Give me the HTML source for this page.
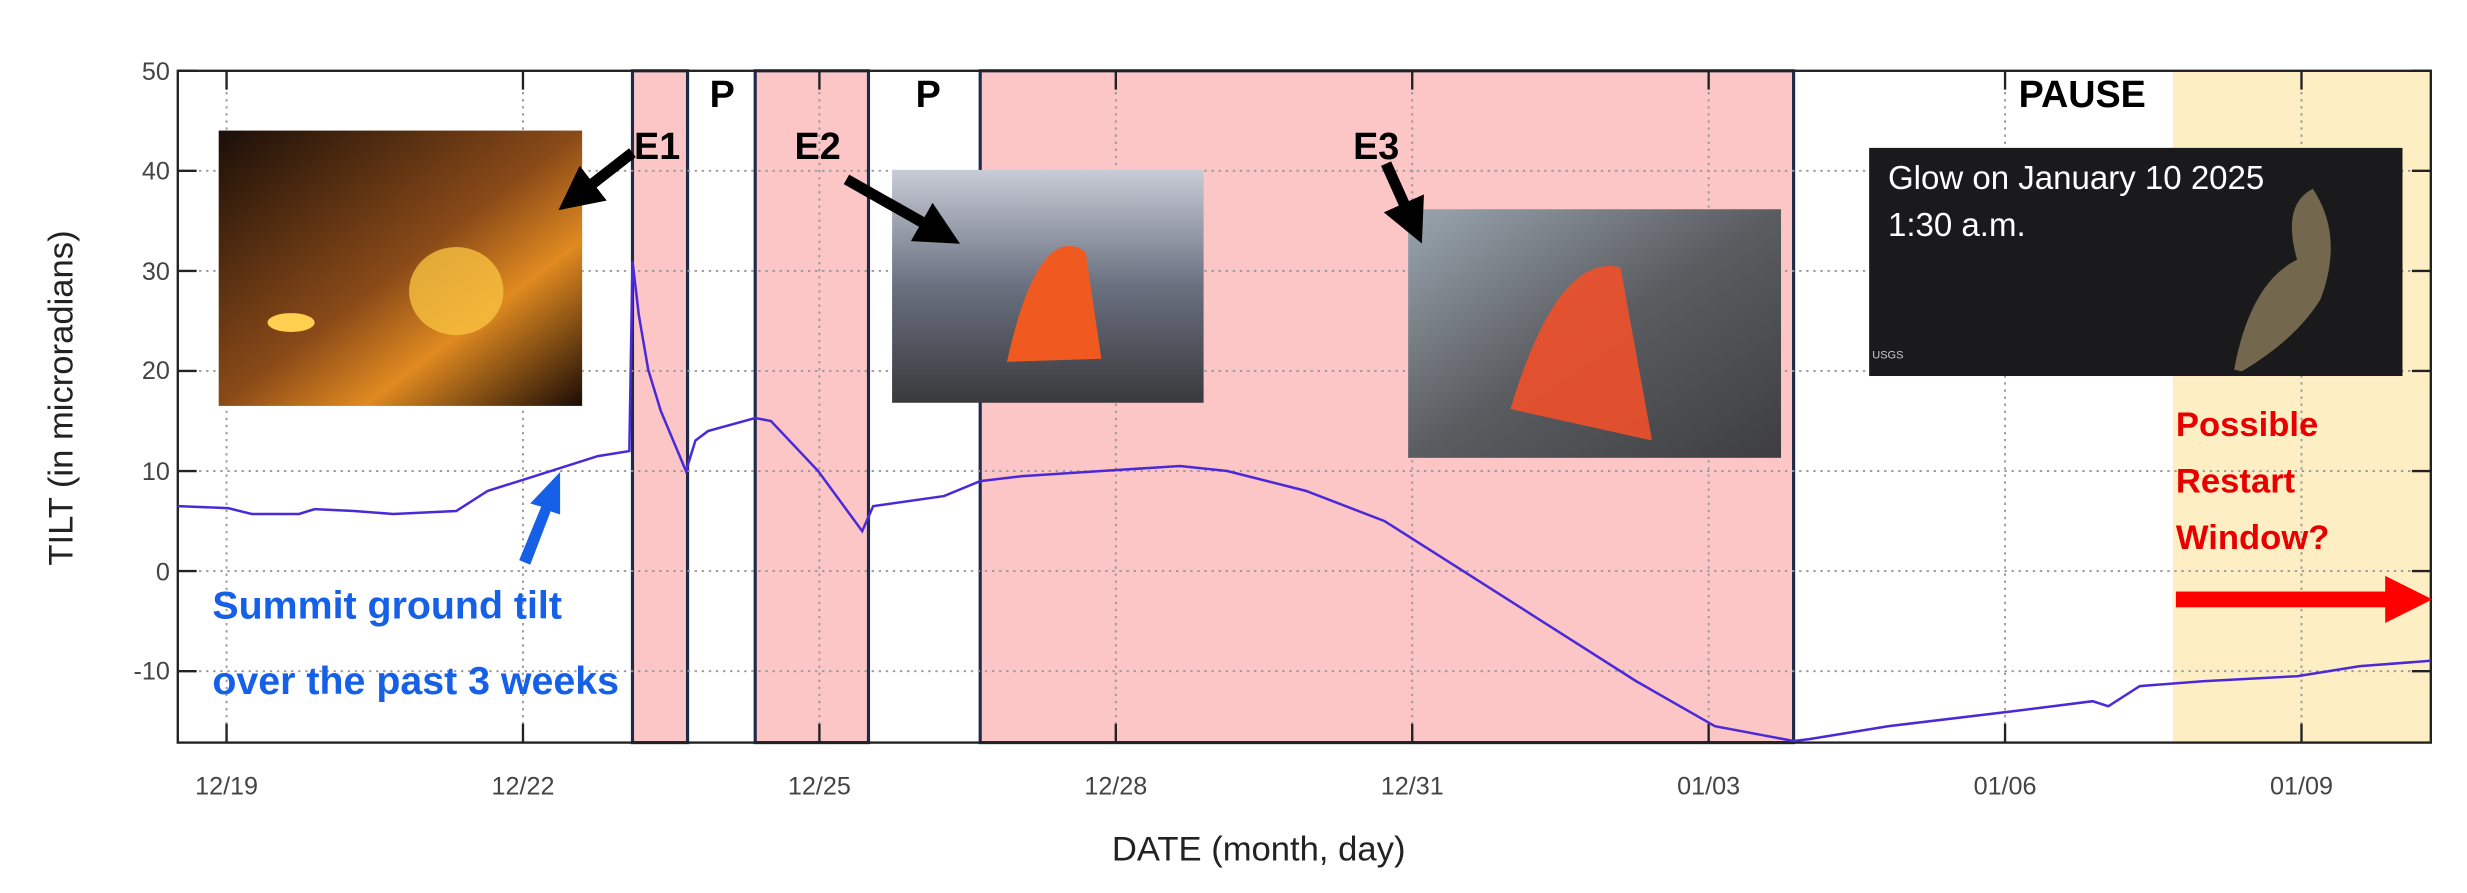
<!DOCTYPE html>
<html><head><meta charset="utf-8"><style>
html,body{margin:0;padding:0;background:#fff;}
svg{display:block;}
</style></head><body>
<svg width="2467" height="893" viewBox="0 0 1568 567.6" preserveAspectRatio="none" xmlns="http://www.w3.org/2000/svg" font-family="Liberation Sans, sans-serif">
<defs>
<linearGradient id="g1" x1="0" y1="0" x2="1" y2="1"><stop offset="0" stop-color="#1a0f08"/><stop offset="0.5" stop-color="#8a4a18"/><stop offset="0.7" stop-color="#e08a20"/><stop offset="1" stop-color="#1a0c06"/></linearGradient>
<linearGradient id="g2" x1="0" y1="0" x2="0" y2="1"><stop offset="0" stop-color="#c8ccd6"/><stop offset="0.5" stop-color="#6a7080"/><stop offset="1" stop-color="#3a3a3c"/></linearGradient>
<linearGradient id="g3" x1="0" y1="0" x2="1" y2="1"><stop offset="0" stop-color="#9aa6b0"/><stop offset="0.5" stop-color="#5a5c60"/><stop offset="1" stop-color="#3e3e40"/></linearGradient>
<marker id="ah" markerWidth="4" markerHeight="4" refX="2" refY="2" orient="auto"><path d="M0,0 L4,2 L0,4 z" fill="#000"/></marker>
</defs>
<rect x="1381" y="45" width="164" height="427" fill="#fdeec4"/>
<rect x="402" y="45" width="35" height="427" fill="#fcc6c6" stroke="#1f2a4a" stroke-width="2"/>
<rect x="480" y="45" width="72" height="427" fill="#fcc6c6" stroke="#1f2a4a" stroke-width="2"/>
<rect x="623" y="45" width="517" height="427" fill="#fcc6c6" stroke="#1f2a4a" stroke-width="2"/>
<g stroke="#999" stroke-width="1.2" stroke-dasharray="1.5,3">
<line x1="113" y1="108.6" x2="1545" y2="108.6"/><line x1="113" y1="172.2" x2="1545" y2="172.2"/><line x1="113" y1="235.8" x2="1545" y2="235.8"/><line x1="113" y1="299.4" x2="1545" y2="299.4"/><line x1="113" y1="363" x2="1545" y2="363"/><line x1="113" y1="426.6" x2="1545" y2="426.6"/>
<line x1="144" y1="45" x2="144" y2="472"/><line x1="332.4" y1="45" x2="332.4" y2="472"/><line x1="520.8" y1="45" x2="520.8" y2="472"/><line x1="709.2" y1="45" x2="709.2" y2="472"/><line x1="897.6" y1="45" x2="897.6" y2="472"/><line x1="1086" y1="45" x2="1086" y2="472"/><line x1="1274.4" y1="45" x2="1274.4" y2="472"/><line x1="1462.8" y1="45" x2="1462.8" y2="472"/>
</g>
<rect x="113" y="45" width="1432" height="427" fill="none" stroke="#222" stroke-width="1.5"/>
<g stroke="#222" stroke-width="1.5">
<path d="M113 45h12M113 108.6h12M113 172.2h12M113 235.8h12M113 299.4h12M113 363h12M113 426.6h12M1545 45h-12M1545 108.6h-12M1545 172.2h-12M1545 235.8h-12M1545 299.4h-12M1545 363h-12M1545 426.6h-12"/>
<path d="M144 472v-12M332.4 472v-12M520.8 472v-12M709.2 472v-12M897.6 472v-12M1086 472v-12M1274.4 472v-12M1462.8 472v-12M144 45v12M332.4 45v12M520.8 45v12M709.2 45v12M897.6 45v12M1086 45v12M1274.4 45v12M1462.8 45v12"/>
</g>
<g font-size="16" fill="#444" text-anchor="end">
<text x="108" y="51">50</text><text x="108" y="114">40</text><text x="108" y="178">30</text><text x="108" y="241">20</text><text x="108" y="305">10</text><text x="108" y="369">0</text><text x="108" y="432">-10</text>
</g>
<g font-size="16" fill="#444" text-anchor="middle">
<text x="144" y="505">12/19</text><text x="332.4" y="505">12/22</text><text x="520.8" y="505">12/25</text><text x="709.2" y="505">12/28</text><text x="897.6" y="505">12/31</text><text x="1086" y="505">01/03</text><text x="1274.4" y="505">01/06</text><text x="1462.8" y="505">01/09</text>
</g>
<text x="800" y="547" font-size="22" text-anchor="middle" fill="#222">DATE (month, day)</text>
<text transform="translate(46,253) rotate(-90)" font-size="22" text-anchor="middle" fill="#222">TILT (in microradians)</text>
<polyline fill="none" stroke="#4a2ad8" stroke-width="1.6" points="113,321.7 145,323 160,326.7 190,326.7 200,323.6 225,324.8 250,326.7 290,324.8 310,312 340,302.6 380,289.9 400,286.7 402,165.8 406,200 412,235 420,261.2 436,299.4 442,280 450,274 480,265.7 490,267.6 520,299.4 548,337.6 555,321.7 600,315.3 623,305.8 650,302.6 700,299.4 750,296.2 780,299.4 830,312 880,331.2 930,363 980,394.8 1040,433 1090,461.6 1140,471 1150,469.8 1200,461.6 1280,452 1330,445.7 1340,448.9 1360,436.1 1400,433 1460,429.8 1500,423.4 1545,420"/>
<rect x="139" y="83" width="231" height="175" fill="url(#g1)"/>
<ellipse cx="290" cy="185" rx="30" ry="28" fill="#f8c040" opacity="0.8"/>
<ellipse cx="185" cy="205" rx="15" ry="6" fill="#ffd050"/>
<rect x="567" y="108" width="198" height="148" fill="url(#g2)"/>
<path d="M640 230 Q660 140 690 160 L700 228 z" fill="#f05a20"/>
<rect x="895" y="133" width="237" height="158" fill="url(#g3)"/>
<path d="M960 260 Q990 160 1030 170 L1050 280 z" fill="#f0502a" opacity="0.9"/>
<rect x="1188" y="94" width="339" height="145" fill="#1a1a1c"/>
<path d="M1420 235 Q1430 180 1460 165 Q1450 130 1470 120 Q1490 150 1475 190 Q1460 215 1425 236z" fill="#8a7a5a" opacity="0.8"/>
<text x="1200" y="120" font-size="21" fill="#fff">Glow on January 10 2025</text>
<text x="1200" y="150" font-size="21" fill="#fff">1:30 a.m.</text>
<text x="1190" y="228" font-size="7" fill="#ccc">USGS</text>
<g font-weight="bold" font-size="24" fill="#000">
<text x="403" y="101">E1</text><text x="451" y="68">P</text><text x="505" y="101">E2</text><text x="582" y="68">P</text><text x="860" y="101">E3</text><text x="1283" y="68">PAUSE</text>
</g>
<g stroke="#000" stroke-width="7" marker-end="url(#ah)">
<line x1="402" y1="97" x2="366" y2="125"/>
<line x1="538" y1="114" x2="598" y2="148"/>
<line x1="881" y1="104" x2="898" y2="142"/>
</g>
<g font-weight="bold" font-size="25" fill="#1560e6">
<text x="135" y="393">Summit ground tilt</text><text x="135" y="441">over the past 3 weeks</text>
</g>
<path d="M330 356 L344 322 L337 320 L356 300 L356 327 L350 325 L337 359z" fill="#1560e6"/>
<g font-weight="bold" font-size="22" fill="#e60000">
<text x="1383" y="277">Possible</text><text x="1383" y="313">Restart</text><text x="1383" y="349">Window?</text>
</g>
<rect x="1383" y="376" width="135" height="10" fill="#f00"/>
<path d="M1516 366 L1546 381 L1516 396z" fill="#f00"/>
</svg>
</body></html>
